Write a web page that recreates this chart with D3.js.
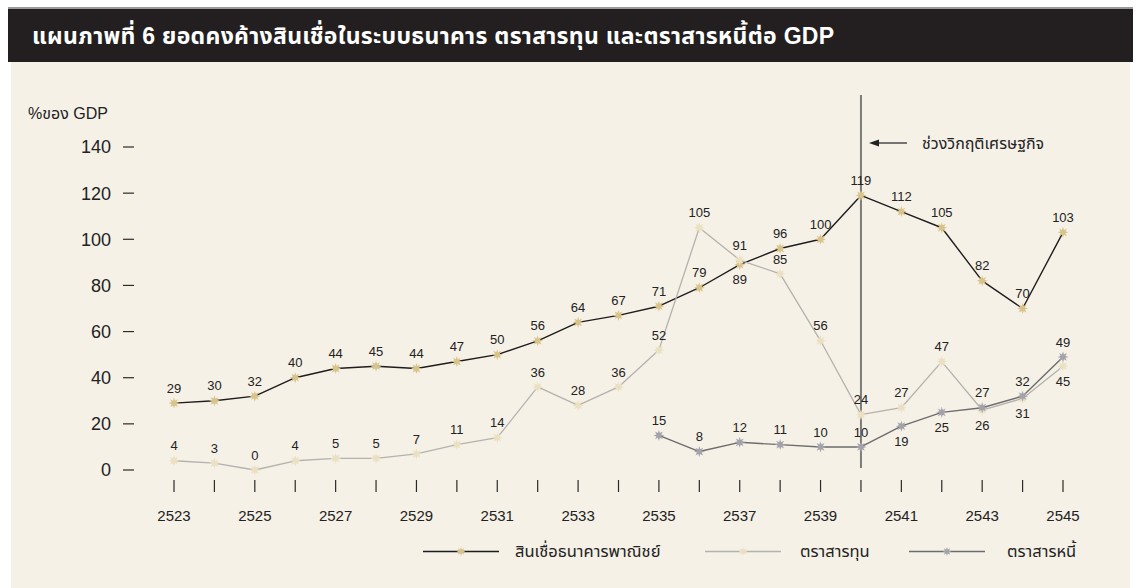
<!DOCTYPE html>
<html lang="th">
<head>
<meta charset="utf-8">
<title>ยอดคงค้างสินเชื่อในระบบธนาคาร ตราสารทุน และตราสารหนี้ต่อ GDP</title>
<script src="https://cdn.jsdelivr.net/npm/d3@7/dist/d3.min.js"></script>
<style>
  html, body { margin: 0; padding: 0; background: #ffffff; }
  svg { display: block; font-family: "Liberation Sans", Arial, "Noto Sans", "Noto Sans Thai", sans-serif; }
</style>
</head>
<body>
<svg id="chart" width="1141" height="588"></svg>
<script>
// Years (Buddhist Era) on the x axis
const years = [2523, 2524, 2525, 2526, 2527, 2528, 2529, 2530, 2531, 2532, 2533, 2534,
               2535, 2536, 2537, 2538, 2539, 2540, 2541, 2542, 2543, 2544, 2545];
// Commercial bank credit, % of GDP
const bankCredit = [29, 30, 32, 40, 44, 45, 44, 47, 50, 56, 64, 67,
                    71, 79, 89, 96, 100, 119, 112, 105, 82, 70, 103];
// Equity (stock market), % of GDP
const equity = [4, 3, 0, 4, 5, 5, 7, 11, 14, 36, 28, 36,
                52, 105, 91, 85, 56, 24, 27, 47, 26, 31, 45];
// Bonds, % of GDP (series begins in 2535)
const debtYears = [2535, 2536, 2537, 2538, 2539, 2540, 2541, 2542, 2543, 2544, 2545];
const debt = [15, 8, 12, 11, 10, 10, 19, 25, 27, 32, 49];
// Axis ticks
const yTicks = [0, 20, 40, 60, 80, 100, 120, 140];
const xTickLabels = [2523, 2525, 2527, 2529, 2531, 2533, 2535, 2537, 2539, 2541, 2543, 2545];
const crisisYear = 2540;

const titleText = "แผนภาพที่ 6 ยอดคงค้างสินเชื่อในระบบธนาคาร ตราสารทุน และตราสารหนี้ต่อ GDP";
const yUnit = "%ของ GDP";
const crisisText = "ช่วงวิกฤติเศรษฐกิจ";

const series = [
  { name: "สินเชื่อธนาคารพาณิชย์", xs: years, ys: bankCredit,
    line: "#1f1c1c", lineWidth: 1.4, marker: "#d8c38a", below: [2537] },
  { name: "ตราสารทุน", xs: years, ys: equity,
    line: "#b4b2ae", lineWidth: 1.3, marker: "#ebe0c2", below: [2543, 2544, 2545] },
  { name: "ตราสารหนี้", xs: debtYears, ys: debt,
    line: "#6e6c6c", lineWidth: 1.4, marker: "#a3a2aa", below: [2541, 2542] }
];

const svg = d3.select("#chart");

// Panel background and title band
svg.append("rect").attr("x", 0).attr("y", 0).attr("width", 1141).attr("height", 588).attr("fill", "#ffffff");
svg.append("rect").attr("x", 8).attr("y", 7).attr("width", 1125).attr("height", 2).attr("fill", "#9a9a9a");
svg.append("rect").attr("x", 8).attr("y", 9).attr("width", 1125).attr("height", 53).attr("fill", "#231f20");
svg.append("rect").attr("x", 11).attr("y", 62).attr("width", 1119).attr("height", 526).attr("fill", "#f5f1e7");

svg.append("text")
  .attr("x", 32).attr("y", 44)
  .attr("fill", "#ffffff")
  .attr("font-size", 23)
  .attr("letter-spacing", 0.3)
  .attr("font-weight", "bold")
  .text(titleText);

const x = d3.scaleLinear().domain([2523, 2545]).range([174, 1063]);
const y = d3.scaleLinear().domain([0, 140]).range([470, 147]);

// Y axis: right-aligned numbers with short dashes
const yAxis = svg.append("g");
yTicks.forEach(v => {
  yAxis.append("line")
    .attr("x1", 123).attr("x2", 134)
    .attr("y1", y(v)).attr("y2", y(v))
    .attr("stroke", "#2a2a2a").attr("stroke-width", 1.2);
  yAxis.append("text")
    .attr("x", 111).attr("y", y(v))
    .attr("dy", "0.36em")
    .attr("text-anchor", "end")
    .attr("font-size", 18)
    .attr("fill", "#222")
    .text(v);
});
svg.append("text")
  .attr("x", 28).attr("y", 113).attr("dy", "0.36em")
  .attr("font-size", 16).attr("fill", "#222")
  .text(yUnit);

// X axis: a tick per year, labels on odd years
const xAxis = svg.append("g");
years.forEach(yr => {
  xAxis.append("line")
    .attr("x1", x(yr)).attr("x2", x(yr))
    .attr("y1", 480).attr("y2", 492)
    .attr("stroke", "#2a2a2a").attr("stroke-width", 1.2);
});
xTickLabels.forEach(yr => {
  xAxis.append("text")
    .attr("x", x(yr)).attr("y", 516).attr("dy", "0.36em")
    .attr("text-anchor", "middle")
    .attr("font-size", 15).attr("fill", "#222")
    .text(yr);
});

// Crisis marker line and annotation
svg.append("line")
  .attr("x1", x(crisisYear)).attr("x2", x(crisisYear))
  .attr("y1", 95).attr("y2", 468)
  .attr("stroke", "#7d7b78").attr("stroke-width", 2);
svg.append("line")
  .attr("x1", 876).attr("x2", 907)
  .attr("y1", 143).attr("y2", 143)
  .attr("stroke", "#222").attr("stroke-width", 1.2);
svg.append("path")
  .attr("d", "M869,143 L879,139.5 L879,146.5 Z")
  .attr("fill", "#222");
svg.append("text")
  .attr("x", 922).attr("y", 143).attr("dy", "0.36em")
  .attr("font-size", 16).attr("fill", "#222")
  .text(crisisText);

// Eight-point star marker
function starPath(r1, r2, n) {
  const pts = [];
  for (let i = 0; i < n * 2; i++) {
    const r = i % 2 === 0 ? r1 : r2;
    const a = Math.PI * i / n - Math.PI / 2;
    pts.push([r * Math.cos(a), r * Math.sin(a)]);
  }
  return "M" + pts.map(p => p[0].toFixed(2) + "," + p[1].toFixed(2)).join("L") + "Z";
}
const star = starPath(5.5, 2.6, 8);
const starSmall = starPath(4.5, 2.2, 8);

const lineGen = d3.line().x(d => x(d[0])).y(d => y(d[1]));

series.forEach(s => {
  const pts = s.xs.map((yr, i) => [yr, s.ys[i]]);
  const g = svg.append("g");
  g.append("path")
    .attr("d", lineGen(pts))
    .attr("fill", "none")
    .attr("stroke", s.line)
    .attr("stroke-width", s.lineWidth)
    .attr("stroke-linejoin", "round");
  g.selectAll("path.mk").data(pts).join("path")
    .attr("class", "mk")
    .attr("d", star)
    .attr("transform", d => `translate(${x(d[0])},${y(d[1])})`)
    .attr("fill", s.marker);
});

// Value labels drawn after all lines so they sit on top
series.forEach(s => {
  const pts = s.xs.map((yr, i) => [yr, s.ys[i]]);
  svg.append("g").selectAll("text").data(pts).join("text")
    .attr("x", d => x(d[0]))
    .attr("y", d => s.below.includes(d[0]) ? y(d[1]) + 15 : y(d[1]) - 15)
    .attr("dy", "0.36em")
    .attr("text-anchor", "middle")
    .attr("font-size", 13)
    .attr("fill", "#222")
    .text(d => d[1]);
});

// Legend
const legendY = 551.5;
const legendItems = [
  { s: series[0], x1: 423, x2: 499, tx: 515 },
  { s: series[1], x1: 705, x2: 781, tx: 800 },
  { s: series[2], x1: 909, x2: 985, tx: 1007 }
];
legendItems.forEach(it => {
  svg.append("line")
    .attr("x1", it.x1).attr("x2", it.x2)
    .attr("y1", legendY).attr("y2", legendY)
    .attr("stroke", it.s.line).attr("stroke-width", it.s.lineWidth);
  svg.append("path")
    .attr("d", starSmall)
    .attr("transform", `translate(${(it.x1 + it.x2) / 2},${legendY})`)
    .attr("fill", it.s.marker);
  svg.append("text")
    .attr("x", it.tx).attr("y", legendY).attr("dy", "0.36em")
    .attr("font-size", 16.5).attr("fill", "#222")
    .text(it.s.name);
});
</script>
</body>
</html>
